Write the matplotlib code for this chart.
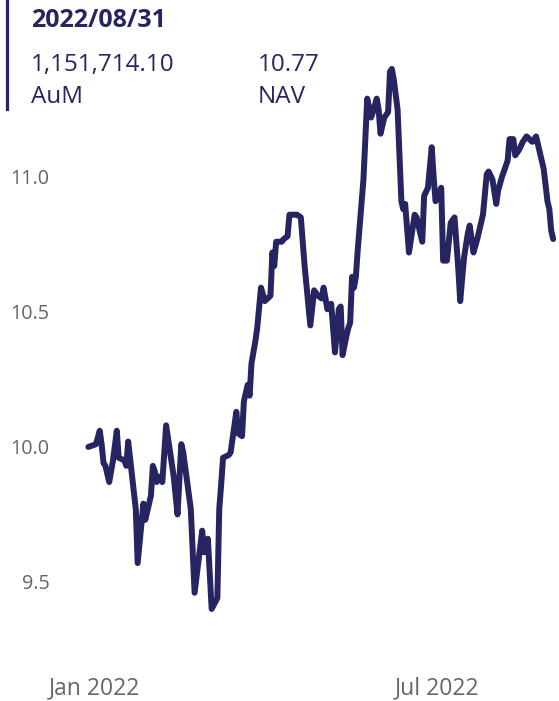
import matplotlib
matplotlib.use('Agg')
import matplotlib.pyplot as plt
import matplotlib.dates as mdates
import numpy as np
import pandas as pd

# NAV series (days counted from 2022-01-01)
day_offsets = [-3, 1, 3, 4, 5, 6, 8, 10, 12, 13, 16, 17, 18, 22, 23, 26, 27, 30, 31, 32,
               33, 34, 36, 38, 42, 44, 46, 47, 51, 53, 57, 58, 60, 62, 65, 66, 67, 68, 71, 72,
               75, 76, 78, 79, 81, 82, 83, 85, 86, 88, 90, 93, 94, 95, 96, 99, 100, 102, 103, 105,
               107, 109, 111, 114, 116, 118, 120, 121, 123, 125, 127, 129, 130, 131, 133, 134, 135, 136, 137, 138,
               139, 142, 144, 146, 147, 149, 150, 151, 153, 155, 156, 157, 158, 160, 162, 163, 164, 166, 169, 170,
               173, 174, 176, 178, 179, 180, 182, 183, 184, 186, 188, 190, 192, 193, 195, 197, 198, 200, 202, 203,
               205, 207, 208, 210, 212, 213, 215, 218, 219, 221, 222, 224, 226, 228, 231, 233, 234, 237, 239, 240,
               241, 242]
nav = [10.00, 10.01, 10.06, 10.01, 9.94, 9.93, 9.87, 9.95, 10.06, 9.96, 9.95, 9.93, 10.02, 9.77, 9.57, 9.79, 9.73, 9.82, 9.93, 9.91,
       9.87, 9.89, 9.87, 10.08, 9.89, 9.75, 10.01, 9.98, 9.77, 9.46, 9.69, 9.61, 9.66, 9.40, 9.44, 9.77, 9.86, 9.96, 9.97, 9.98,
       10.13, 10.05, 10.04, 10.17, 10.23, 10.19, 10.31, 10.39, 10.44, 10.59, 10.54, 10.56, 10.72, 10.67, 10.76, 10.76, 10.77, 10.78, 10.86, 10.86,
       10.86, 10.85, 10.67, 10.45, 10.58, 10.56, 10.55, 10.59, 10.51, 10.53, 10.35, 10.51, 10.52, 10.34, 10.41, 10.44, 10.46, 10.63, 10.59, 10.63,
       10.73, 10.99, 11.29, 11.22, 11.24, 11.29, 11.25, 11.16, 11.22, 11.24, 11.39, 11.40, 11.36, 11.25, 10.91, 10.88, 10.90, 10.72, 10.86, 10.85,
       10.76, 10.93, 10.96, 11.11, 11.00, 10.91, 10.94, 10.96, 10.69, 10.69, 10.83, 10.85, 10.66, 10.54, 10.70, 10.79, 10.82, 10.72, 10.77, 10.80,
       10.86, 11.01, 11.02, 10.99, 10.90, 10.95, 11.00, 11.06, 11.14, 11.14, 11.08, 11.10, 11.13, 11.15, 11.13, 11.15, 11.12, 11.03, 10.91, 10.88,
       10.80, 10.77]

header_date = '2022/08/31'
aum_text = '1,151,714.10'
nav_text = '10.77'

line_color = '#262561'
label_color = '#666666'

dates = pd.Timestamp('2022-01-01') + pd.to_timedelta(day_offsets, unit='D')

W, H = 559, 701
fig = plt.figure(figsize=(W / 100, H / 100), dpi=100)
plt.rcParams['font.family'] = ['Open Sans', 'DejaVu Sans']

def fx(px):
    return px / W

def fy(py):
    return 1 - py / H

ax = fig.add_axes([fx(80), fy(640), fx(556) - fx(80), fy(60) - fy(640)])
ax.plot(dates, nav, color=line_color, lw=4.3, solid_joinstyle='round', solid_capstyle='round')

base = pd.Timestamp('2022-01-01')
ax.set_xlim(base - pd.Timedelta(days=7.4), base + pd.Timedelta(days=243.5))
ax.set_ylim(9.285, 11.433)

ax.set_yticks([9.5, 10.0, 10.5, 11.0])
ax.yaxis.set_major_formatter(matplotlib.ticker.FormatStrFormatter('%.1f'))
ax.set_xticks([pd.Timestamp('2022-01-01'), pd.Timestamp('2022-07-01')])
ax.xaxis.set_major_formatter(mdates.DateFormatter('%b %Y'))
ax.tick_params(length=0, labelcolor=label_color)
ax.tick_params(axis='y', pad=22, labelsize=14.2)
ax.tick_params(axis='x', pad=26, labelsize=16.5)
for s in ax.spines.values():
    s.set_visible(False)

# header card
fig.add_artist(plt.Line2D([fx(7), fx(7)], [fy(0), fy(109)], color=line_color, lw=2.3))
fig.text(fx(31), fy(27), header_date, fontsize=18, fontweight='bold', color=line_color)
fig.text(fx(31), fy(71), aum_text, fontsize=17.5, color=line_color)
fig.text(fx(31), fy(103), 'AuM', fontsize=17.5, color=line_color)
fig.text(fx(258), fy(71), nav_text, fontsize=17.5, color=line_color)
fig.text(fx(258), fy(103), 'NAV', fontsize=17.5, color=line_color)

fig.savefig('out.png', dpi=100)
